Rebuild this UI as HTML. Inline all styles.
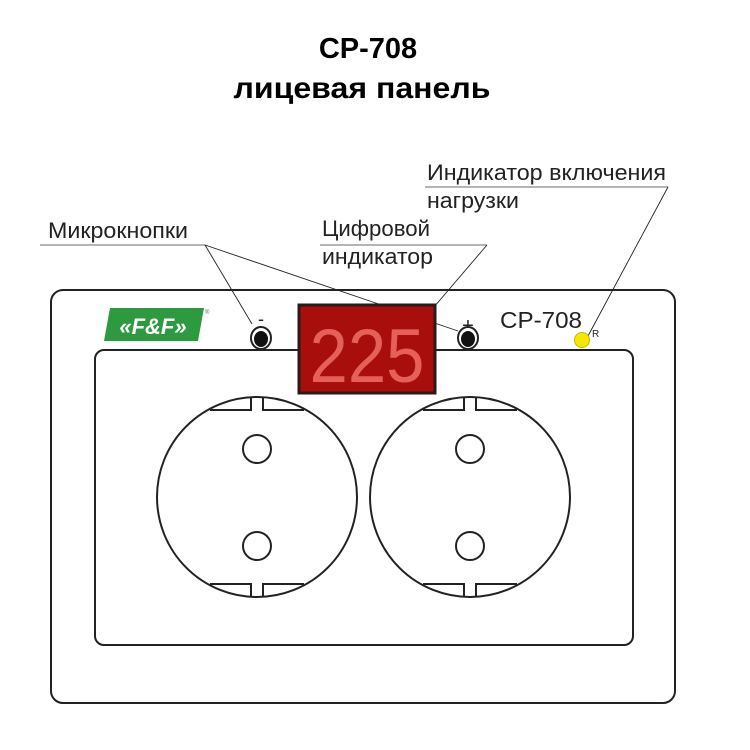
<!DOCTYPE html>
<html><head><meta charset="utf-8"><style>
body{margin:0;background:#fff;}
svg{display:block;}
text{font-family:"Liberation Sans",sans-serif;}
</style></head><body>
<svg width="750" height="750" viewBox="0 0 750 750">
<text x="368" y="58" font-size="29" font-weight="bold" text-anchor="middle" fill="#000">CP-708</text>
<text x="362" y="98" font-size="30" font-weight="bold" text-anchor="middle" fill="#000" textLength="257" lengthAdjust="spacingAndGlyphs">лицевая панель</text>

<text x="427" y="180" font-size="22" fill="#222" textLength="239" lengthAdjust="spacingAndGlyphs">Индикатор включения</text>
<line x1="425" y1="187" x2="668" y2="187" stroke="#888" stroke-width="1.2"/>
<text x="427" y="208" font-size="22" fill="#222" textLength="92" lengthAdjust="spacingAndGlyphs">нагрузки</text>
<line x1="668" y1="187" x2="588" y2="336" stroke="#222" stroke-width="0.9"/>

<text x="48" y="238" font-size="22" fill="#222" textLength="140" lengthAdjust="spacingAndGlyphs">Микрокнопки</text>
<line x1="40" y1="245" x2="205" y2="245" stroke="#888" stroke-width="1.2"/>
<line x1="205" y1="245" x2="252" y2="324" stroke="#222" stroke-width="0.9"/>
<line x1="205" y1="245" x2="458" y2="331" stroke="#222" stroke-width="0.9"/>

<text x="322" y="236" font-size="22" fill="#222" textLength="108" lengthAdjust="spacingAndGlyphs">Цифровой</text>
<line x1="320" y1="245" x2="487" y2="245" stroke="#888" stroke-width="1.2"/>
<text x="322" y="264" font-size="22" fill="#222" textLength="111" lengthAdjust="spacingAndGlyphs">индикатор</text>
<line x1="487" y1="245" x2="434" y2="307" stroke="#222" stroke-width="0.9"/>

<rect x="51" y="290" width="624" height="413" rx="12" fill="none" stroke="#222" stroke-width="2"/>
<rect x="95" y="350" width="538" height="295" rx="9" fill="none" stroke="#222" stroke-width="2"/>

<polygon points="110,308 204,308 198,341 104,341" fill="#2e9a3f"/>
<text x="153" y="334" font-size="22" font-weight="bold" font-style="italic" fill="#fff" text-anchor="middle">«F&amp;F»</text>
<text x="205" y="314" font-size="6" fill="#666">®</text>

<text x="261" y="325" font-size="18" text-anchor="middle" fill="#222">-</text>
<ellipse cx="261" cy="338" rx="10" ry="11" fill="#fff" stroke="#222" stroke-width="2"/>
<ellipse cx="261" cy="339" rx="7" ry="8" fill="#111"/>
<text x="468" y="332" font-size="20" text-anchor="middle" fill="#222">+</text>
<ellipse cx="468" cy="338" rx="10" ry="11" fill="#fff" stroke="#222" stroke-width="2"/>
<ellipse cx="468" cy="339" rx="7" ry="8" fill="#111"/>

<rect x="299" y="305" width="136" height="88" fill="#a80e0b" stroke="#2a1a18" stroke-width="3"/>
<text x="367" y="382" font-size="76" text-anchor="middle" fill="#e6605a" textLength="115" lengthAdjust="spacingAndGlyphs">225</text>

<text x="500" y="328" font-size="23" fill="#222" textLength="82" lengthAdjust="spacingAndGlyphs">CP-708</text>
<text x="592" y="337" font-size="10" fill="#222">R</text>
<circle cx="582" cy="340" r="7.5" fill="#f5e800" stroke="#c9b400" stroke-width="1"/>

<g fill="none" stroke="#222" stroke-width="2">
 <g>
  <circle cx="257" cy="497" r="100"/>
  <path d="M210 410 L251 410 L251 398 M263 398 L263 410 L304 410"/>
  <path d="M210 584 L251 584 L251 596 M263 596 L263 584 L304 584"/>
  <circle cx="257" cy="449" r="14"/>
  <circle cx="257" cy="546" r="14"/>
 </g>
 <g transform="translate(213 0)">
  <circle cx="257" cy="497" r="100"/>
  <path d="M210 410 L251 410 L251 398 M263 398 L263 410 L304 410"/>
  <path d="M210 584 L251 584 L251 596 M263 596 L263 584 L304 584"/>
  <circle cx="257" cy="449" r="14"/>
  <circle cx="257" cy="546" r="14"/>
 </g>
</g>
</svg>
</body></html>
